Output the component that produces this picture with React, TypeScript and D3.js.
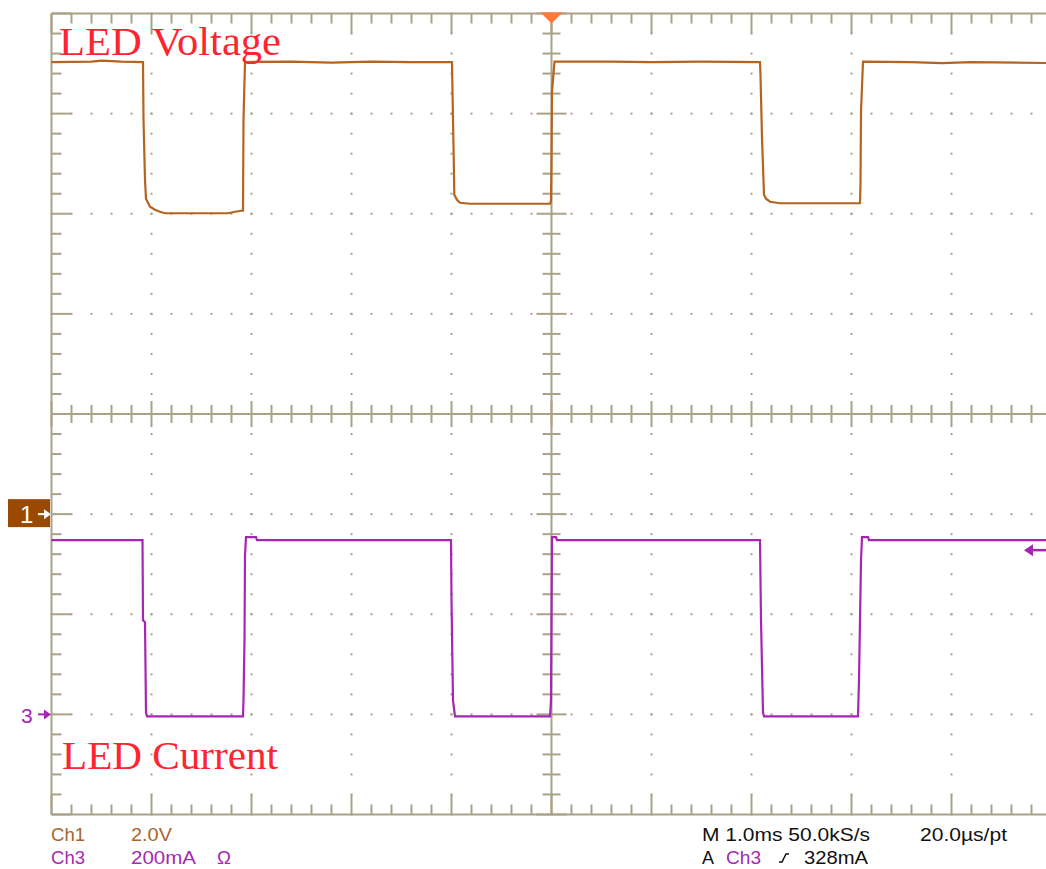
import React, { useEffect, useRef } from 'react';
import * as d3 from 'd3';

// Ch1: LED voltage, [time ms, volts] (2.0V/div, ground marker 1 div below centre)
const ch1Voltage: [number, number][] = [
  [-5.0, 9.03], [-4.6, 9.04], [-4.5, 9.06], [-4.3, 9.04], [-4.085, 9.03],
  [-4.08, 7.88], [-4.065, 6.68], [-4.055, 6.3], [-4.035, 6.22], [-4.015, 6.14],
  [-3.965, 6.08], [-3.915, 6.04], [-3.865, 6.01], [-3.235, 6.01], [-3.165, 6.04],
  [-3.105, 6.06], [-3.085, 6.06], [-3.08, 7.88], [-3.065, 9.03], [-2.6, 9.04],
  [-2.2, 9.02], [-1.8, 9.04], [-1.4, 9.03], [-0.995, 9.03], [-0.99, 8.42],
  [-0.978, 7.14], [-0.972, 6.38], [-0.945, 6.28], [-0.915, 6.22], [-0.815, 6.2],
  [-0.015, 6.2], [-0.005, 6.26], [0.0, 7.08], [0.005, 8.44], [0.03, 9.04],
  [0.6, 9.04], [1.0, 9.03], [1.5, 9.04], [2.085, 9.03], [2.09, 8.76],
  [2.105, 7.52], [2.125, 6.38], [2.145, 6.3], [2.185, 6.24], [2.285, 6.21],
  [3.085, 6.21], [3.09, 6.62], [3.095, 8.04], [3.115, 9.04], [3.6, 9.03],
  [3.9, 9.01], [4.2, 9.03], [5.0, 9.01],
];

// Ch3: LED current, [time ms, mA] (200mA/div, ground marker 3 div below centre)
const ch3Current: [number, number][] = [
  [-5.0, 348], [-4.09, 348], [-4.085, 188], [-4.065, 184], [-4.055, 4],
  [-4.045, -4], [-3.085, -4], [-3.08, 28], [-3.07, 148], [-3.065, 318],
  [-3.055, 354], [-2.955, 354], [-2.945, 348], [-1.005, 348], [-1.0, 228],
  [-0.985, 28], [-0.965, -4], [-0.015, -4], [-0.005, 28], [0.005, 354],
  [0.045, 354], [0.055, 348], [2.085, 348], [2.095, 188], [2.115, 4],
  [2.125, -4], [3.065, -4], [3.075, 68], [3.095, 308], [3.105, 354],
  [3.165, 354], [3.175, 348], [5.0, 348],
];

const triggerLevel = 328; // mA
const statusTop = [
  { text: 'Ch1', x: 51, w: 34, color: '#a8652c' },
  { text: '2.0V', x: 131, w: 41, color: '#a8652c' },
  { text: 'M 1.0ms 50.0kS/s', x: 702, w: 168, color: '#111' },
  { text: '20.0µs/pt', x: 920, w: 87, color: '#111' },
];
const statusBottom = [
  { text: 'Ch3', x: 51, w: 34, color: '#a52ab0' },
  { text: '200mA', x: 131, w: 65, color: '#a52ab0' },
  { text: 'Ω', x: 217, w: 14, color: '#a52ab0' },
  { text: 'A', x: 702, w: 12, color: '#111' },
  { text: 'Ch3', x: 726, w: 35, color: '#a52ab0' },
  { text: '328mA', x: 804, w: 64, color: '#111' },
];

const App: React.FC = () => {
  const svgRef = useRef<SVGSVGElement>(null);
  const width = 1046;
  const height = 869;

  useEffect(() => {
    if (!svgRef.current) return;
    const svg = d3.select(svgRef.current);
    svg.selectAll('*').remove();

    const gridColor = '#aaa288';
    const x = d3.scaleLinear().domain([-5, 5]).range([51.5, 1051.5]);
    const y = d3.scaleLinear().domain([-4, 4]).range([814.5, 13.5]);
    const ch1Y = (v: number) => y(-1 + v / 2);
    const ch3Y = (i: number) => y(-3 + i / 200);

    const minorX = d3.range(-25, 26).map(i => i / 5);
    const minorY = d3.range(-20, 21).map(i => i / 5);
    const isMajor = (v: number) => Math.abs(v - Math.round(v)) < 1e-6;

    const grid = svg.append('g');

    // dotted division lines
    const divX = d3.range(-4, 5).filter(d => d !== 0);
    const divY = d3.range(-3, 4).filter(d => d !== 0);
    divX.forEach(dx => {
      minorY.forEach(v => {
        grid.append('rect').attr('x', x(dx) - 1).attr('y', y(v) - 1)
          .attr('width', 2).attr('height', 2).attr('fill', gridColor);
      });
    });
    divY.forEach(dy => {
      minorX.forEach(v => {
        grid.append('rect').attr('x', x(v) - 1).attr('y', y(dy) - 1)
          .attr('width', 2).attr('height', 2).attr('fill', gridColor);
      });
    });

    // border
    grid.append('line').attr('x1', x(-5)).attr('x2', x(-5)).attr('y1', y(4)).attr('y2', y(-4))
      .attr('stroke', gridColor).attr('stroke-width', 2);
    grid.append('line').attr('x1', x(-5)).attr('x2', x(5)).attr('y1', y(4)).attr('y2', y(4))
      .attr('stroke', gridColor).attr('stroke-width', 2);
    grid.append('line').attr('x1', x(-5)).attr('x2', x(5)).attr('y1', y(-4)).attr('y2', y(-4))
      .attr('stroke', gridColor).attr('stroke-width', 2);

    // border ticks
    minorX.forEach(v => {
      const len = isMajor(v) ? 20 : 10;
      grid.append('line').attr('x1', x(v)).attr('x2', x(v)).attr('y1', y(4)).attr('y2', y(4) + len)
        .attr('stroke', gridColor).attr('stroke-width', 2);
      grid.append('line').attr('x1', x(v)).attr('x2', x(v)).attr('y1', y(-4)).attr('y2', y(-4) - len)
        .attr('stroke', gridColor).attr('stroke-width', 2);
    });
    minorY.forEach(v => {
      const len = isMajor(v) ? 20 : 10;
      grid.append('line').attr('x1', x(-5)).attr('x2', x(-5) + len).attr('y1', y(v)).attr('y2', y(v))
        .attr('stroke', gridColor).attr('stroke-width', 2);
    });

    // centre cross with ticks
    grid.append('line').attr('x1', x(0)).attr('x2', x(0)).attr('y1', y(4)).attr('y2', y(-4))
      .attr('stroke', gridColor).attr('stroke-width', 2);
    grid.append('line').attr('x1', x(-5)).attr('x2', x(5)).attr('y1', y(0)).attr('y2', y(0))
      .attr('stroke', gridColor).attr('stroke-width', 2);
    minorX.forEach(v => {
      const len = isMajor(v) ? 13 : 9;
      grid.append('line').attr('x1', x(v)).attr('x2', x(v)).attr('y1', y(0) - len).attr('y2', y(0) + len)
        .attr('stroke', gridColor).attr('stroke-width', 2);
    });
    minorY.forEach(v => {
      const len = isMajor(v) ? 15 : 9;
      grid.append('line').attr('x1', x(0) - len).attr('x2', x(0) + len).attr('y1', y(v)).attr('y2', y(v))
        .attr('stroke', gridColor).attr('stroke-width', 2);
    });

    // trigger position marker
    svg.append('path')
      .attr('d', `M${x(0) - 11},${y(4) - 1} L${x(0) + 11},${y(4) - 1} L${x(0)},${y(4) + 10} Z`)
      .attr('fill', '#ff7a38');

    // traces
    const line1 = d3.line<[number, number]>().x(d => x(d[0])).y(d => ch1Y(d[1]));
    const line3 = d3.line<[number, number]>().x(d => x(d[0])).y(d => ch3Y(d[1]));
    svg.append('path').datum(ch1Voltage).attr('d', line1)
      .attr('fill', 'none').attr('stroke', '#b5631f').attr('stroke-width', 2.2);
    svg.append('path').datum(ch3Current).attr('d', line3)
      .attr('fill', 'none').attr('stroke', '#a526b2').attr('stroke-width', 2.2);

    const sans = '"Liberation Sans", Arial, sans-serif';

    // channel markers
    const m1 = ch1Y(0);
    svg.append('rect').attr('x', 8).attr('y', m1 - 15).attr('width', 42).attr('height', 28)
      .attr('fill', '#9a4a00');
    svg.append('text').attr('x', 20).attr('y', m1 + 9).text('1')
      .style('font-family', sans).style('font-size', '24px').attr('fill', '#fff');
    svg.append('line').attr('x1', 38).attr('x2', 48).attr('y1', m1).attr('y2', m1)
      .attr('stroke', '#fff').attr('stroke-width', 2);
    svg.append('path').attr('d', `M51,${m1} L44,${m1 - 5} L44,${m1 + 5} Z`).attr('fill', '#fff');

    const m3 = ch3Y(0);
    svg.append('text').attr('x', 21).attr('y', m3 + 9).text('3')
      .style('font-family', sans).style('font-size', '21px').attr('fill', '#a526b2');
    svg.append('line').attr('x1', 38).attr('x2', 47).attr('y1', m3).attr('y2', m3)
      .attr('stroke', '#a526b2').attr('stroke-width', 2);
    svg.append('path').attr('d', `M51,${m3} L44,${m3 - 5} L44,${m3 + 5} Z`).attr('fill', '#a526b2');

    // trigger level arrow on the right
    const tl = ch3Y(triggerLevel);
    svg.append('line').attr('x1', 1030).attr('x2', 1046).attr('y1', tl).attr('y2', tl)
      .attr('stroke', '#a526b2').attr('stroke-width', 2.5);
    svg.append('path').attr('d', `M1024,${tl} L1033,${tl - 6} L1033,${tl + 6} Z`).attr('fill', '#a526b2');

    // trace labels
    const serif = '"Liberation Serif", "Times New Roman", serif';
    svg.append('text').attr('x', 59).attr('y', 55).text('LED Voltage')
      .attr('textLength', 222).attr('lengthAdjust', 'spacingAndGlyphs')
      .style('font-family', serif).style('font-size', '41px').attr('fill', '#ff2430');
    svg.append('text').attr('x', 62).attr('y', 769).text('LED Current')
      .attr('textLength', 216).attr('lengthAdjust', 'spacingAndGlyphs')
      .style('font-family', serif).style('font-size', '41px').attr('fill', '#ff2430');

    // status readout
    statusTop.forEach(s => {
      svg.append('text').attr('x', s.x).attr('y', 841).text(s.text)
        .attr('textLength', s.w).attr('lengthAdjust', 'spacingAndGlyphs')
        .style('font-family', sans).style('font-size', '19px').attr('fill', s.color);
    });
    statusBottom.forEach(s => {
      svg.append('text').attr('x', s.x).attr('y', 864).text(s.text)
        .attr('textLength', s.w).attr('lengthAdjust', 'spacingAndGlyphs')
        .style('font-family', sans).style('font-size', '19px').attr('fill', s.color);
    });
    // rising slope glyph
    svg.append('path').attr('d', 'M779,862 L782,862 L786,854 L789,854')
      .attr('fill', 'none').attr('stroke', '#111').attr('stroke-width', 1.5);
  }, []);

  return (
    <div style={{ position: 'absolute', left: 0, top: 0, width, height, background: '#fff' }}>
      <svg ref={svgRef} width={width} height={height} style={{ display: 'block' }} />
    </div>
  );
};

export default App;
